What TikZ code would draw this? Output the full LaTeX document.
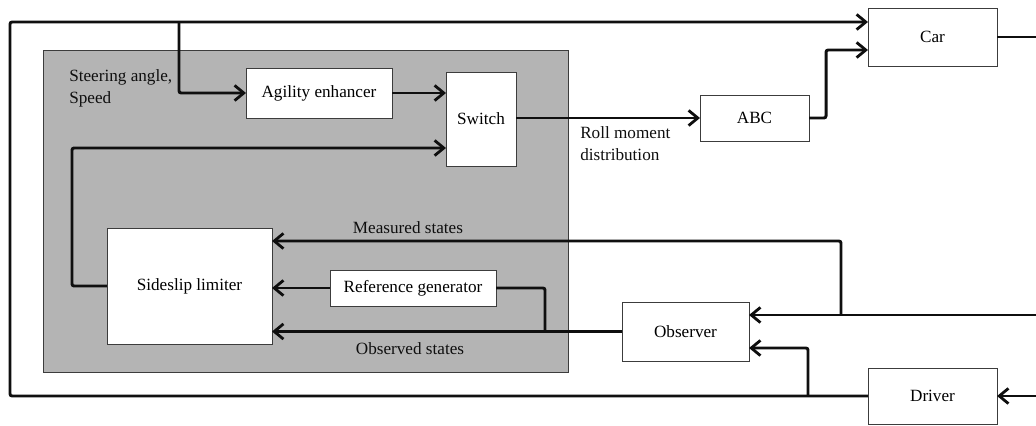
\documentclass[tikz,border=0pt]{standalone}
\usepackage{fontspec}
\setmainfont{Liberation Serif}
\usepackage{tikz}
\usetikzlibrary{arrows.meta,positioning,calc}
\definecolor{vsedge}{RGB}{60,60,60}
\definecolor{vsgray}{RGB}{180,180,180}
\definecolor{vsink}{RGB}{15,15,15}
\tikzset{
  blk/.style={
    draw=vsedge, line width=0.6pt, fill=white, align=center,
    inner sep=0pt, outer sep=0pt, font=\fontsize{12.2}{14}\selectfont
  },
  grp/.style={draw=vsedge, line width=0.6pt, fill=vsgray, inner sep=0pt, outer sep=0pt},
  line/.style={draw=vsink, line width=2.1pt, rounded corners=1.5pt},
  arr/.style={line, -{Straight Barb[length=2.3mm,width=3.8mm,line width=2pt]}},
  lbl/.style={font=\fontsize{12.2}{16}\selectfont, text=vsink, align=left, inner sep=0pt}
}
\begin{document}
\begin{tikzpicture}[x=0.025cm, y=-0.025cm]
  \useasboundingbox (0,0) rectangle (1036,426);
  % controller area
  \node[grp, minimum width=131.25mm, minimum height=80.5mm] (ctrl) at (305.5,211) {};
  % blocks
  \node[blk, minimum width=32.25mm, minimum height=14.5mm] (car) at (932.5,37) {Car};
  \node[blk, minimum width=36.5mm, minimum height=12.5mm] (agil) at (319,93) {Agility enhancer};
  \node[blk, minimum width=17.5mm, minimum height=23.5mm] (sw) at (481,119) {Switch};
  \node[blk, minimum width=27.25mm, minimum height=11.5mm] (abc) at (754.5,118) {ABC};
  \node[blk, minimum width=41.25mm, minimum height=29mm] (sl) at (189.5,286) {Sideslip limiter};
  \node[blk, minimum width=41.5mm, minimum height=9mm] (ref) at (413,288) {Reference generator};
  \node[blk, minimum width=31.75mm, minimum height=14.75mm] (obs) at (685.5,331.5) {Observer};
  \node[blk, minimum width=32.25mm, minimum height=14mm] (drv) at (932.5,396) {Driver};
  % free ends and junctions
  \coordinate (carOut) at (1036,37);
  \coordinate (measIn) at (1036,315);
  \coordinate (drvIn) at (1036,396);
  \coordinate (jSteer) at (179,22);
  \coordinate (jMeas) at (841,315);
  \coordinate (jRef) at (545,331);
  \coordinate (jDrv) at (808,396);
  % connectors
  \draw[arr] (drv.west) -| (10,22) -- (car.west |- jSteer);
  \draw[arr] (jSteer) |- (agil.west);
  \draw[arr] (agil.east) -- (agil.east -| sw.west);
  \draw[arr] (sl.west) -- ++(-35,0) |- (sw.west |- 0,148);
  \draw[arr] (sw.east |- abc.west) -- (abc.west);
  \draw[arr] (abc.east) -- ++(17,0) |- (car.west |- 0,50);
  \draw[line] (car.east) -- (carOut);
  \draw[arr] (measIn) -- (measIn -| obs.east);
  \draw[arr] (jMeas) |- (sl.east |- 0,241);
  \draw[arr] (ref.west) -- (ref.west -| sl.east);
  \draw[line] (ref.east) -| (jRef);
  \draw[arr] (obs.west) -- (obs.west -| sl.east);
  \draw[arr] (drvIn) -- (drv.east);
  \draw[arr] (jDrv) |- (obs.east |- 0,348);
  % labels
  \node[lbl, anchor=north west] (lSteer) at (69,69) {Steering angle,\\Speed};
  \node[lbl, anchor=north west] (lRoll) at (580,126) {Roll moment\\distribution};
  \node[lbl] (lMeas) at (408,228) {Measured states};
  \node[lbl] (lObs) at (410,349) {Observed states};
\end{tikzpicture}
\end{document}
